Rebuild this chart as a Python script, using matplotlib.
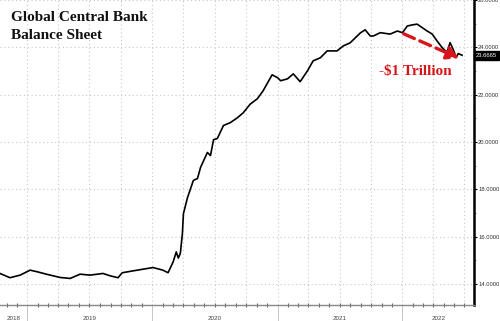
import matplotlib
matplotlib.use("Agg")
import matplotlib.pyplot as plt
import matplotlib.dates as mdates
import matplotlib.transforms as mtransforms
import pandas as pd

# global central bank balance sheet, $ trillion
dates = ["2018-10-13", "2018-11-11", "2018-12-11", "2019-01-09", "2019-01-30",
         "2019-02-28", "2019-04-07", "2019-05-06", "2019-06-04", "2019-07-03",
         "2019-08-10", "2019-08-31", "2019-09-23", "2019-10-05", "2019-11-06",
         "2019-12-05", "2020-01-03", "2020-02-01", "2020-02-16", "2020-03-02",
         "2020-03-11", "2020-03-17", "2020-03-23", "2020-03-29", "2020-04-01",
         "2020-04-13", "2020-04-22", "2020-04-30", "2020-05-12", "2020-05-21",
         "2020-06-10", "2020-06-19", "2020-06-28", "2020-07-09", "2020-07-27",
         "2020-08-16", "2020-09-06", "2020-09-23", "2020-10-13", "2020-11-03",
         "2020-11-20", "2020-12-16", "2021-01-01", "2021-01-10", "2021-01-30",
         "2021-02-16", "2021-03-08", "2021-03-29", "2021-04-15", "2021-05-06",
         "2021-05-26", "2021-06-24", "2021-07-12", "2021-08-01", "2021-08-31",
         "2021-09-14", "2021-09-29", "2021-10-08", "2021-10-28", "2021-11-26",
         "2021-12-17", "2022-01-01", "2022-01-15", "2022-01-30", "2022-02-13",
         "2022-02-28", "2022-03-14", "2022-03-29", "2022-04-12", "2022-04-27",
         "2022-05-11", "2022-05-20", "2022-05-29", "2022-06-07", "2022-06-13",
         "2022-06-24"]
values = [14.45, 14.27, 14.38, 14.59, 14.52,
          14.41, 14.28, 14.24, 14.42, 14.38,
          14.45, 14.35, 14.27, 14.48, 14.56,
          14.63, 14.70, 14.59, 14.48, 14.94,
          15.36, 15.10, 15.30, 16.15, 16.98,
          17.66, 18.04, 18.38, 18.46, 18.93,
          19.56, 19.43, 20.10, 20.15, 20.70,
          20.82, 21.03, 21.24, 21.60, 21.83,
          22.17, 22.84, 22.72, 22.59, 22.67,
          22.88, 22.55, 23.00, 23.43, 23.56,
          23.85, 23.85, 24.06, 24.19, 24.61,
          24.74, 24.48, 24.48, 24.62, 24.56,
          24.69, 24.62, 24.90, 24.95, 24.98,
          24.83, 24.69, 24.56, 24.27, 23.99,
          23.78, 24.20, 23.92, 23.57, 23.74,
          23.6665]
last_label = "23.6665"
years = [2018, 2019, 2020, 2021, 2022]
yticks = [14, 16, 18, 20, 22, 24, 26]

dates = pd.to_datetime(dates)
x_start = pd.Timestamp("2018-10-13")
x_end = pd.Timestamp("2022-07-29")
tickfont = "Liberation Sans"

fig = plt.figure(figsize=(5.0, 3.21), dpi=100)
ax = fig.add_axes([0.0, 0.05, 0.948, 0.95])

ax.plot(dates, values, color="black", lw=1.2, zorder=3)
ax.set_xlim(x_start, x_end)
ax.set_ylim(13.12, 26.0)

# y axis on the right
ax.yaxis.tick_right()
ax.set_yticks(yticks)
ax.set_yticklabels(["%.4f" % v for v in yticks], family=tickfont)
ax.set_yticks([15, 17, 19, 21, 23, 25], minor=True)
ax.tick_params(axis="y", which="major", direction="out", length=2.0, width=0.8,
               colors="black", labelsize=4.2, labelcolor="#333333", pad=1.0)
ax.tick_params(axis="y", which="minor", direction="out", length=1.5, width=0.6,
               colors="#777777")

for s in ["top", "left"]:
    ax.spines[s].set_visible(False)
ax.spines["right"].set_linewidth(1.8)
ax.spines["bottom"].set_color("#888888")
ax.spines["bottom"].set_linewidth(1.0)

# x axis: year separators below, monthly ticks, quarterly grid
ax.xaxis.set_major_locator(mdates.YearLocator())
ax.xaxis.set_minor_locator(mdates.MonthLocator())
ax.xaxis.set_major_formatter(plt.NullFormatter())
ax.tick_params(axis="x", which="major", direction="out", length=12, width=0.6,
               colors="#bbbbbb")
ax.tick_params(axis="x", which="minor", direction="inout", length=2.5, width=0.8,
               colors="#666666")

qdates = pd.date_range("2018-10-01", "2022-07-01", freq="QS")
for q in qdates:
    ax.axvline(q, color="#c8c8c8", lw=0.8, ls=(0, (1, 2.5)), zorder=1)
for v in yticks:
    ax.axhline(v, color="#c8c8c8", lw=0.8, ls=(0, (1, 2.5)), zorder=1)

# year labels centred in the visible part of each year
trans = mtransforms.blended_transform_factory(ax.transData, ax.transAxes)
for y in years:
    a = max(pd.Timestamp(f"{y}-01-01"), x_start)
    b = min(pd.Timestamp(f"{y + 1}-01-01"), x_end)
    mid = a + (b - a) / 2
    ax.text(mid, -0.035, str(y), transform=trans, ha="center", va="top",
            fontsize=4.5, color="#444444", family=tickfont)

# title
fig.text(0.022, 0.965, "Global Central Bank\nBalance Sheet", ha="left", va="top",
         fontsize=11, fontweight="bold", family="Liberation Serif",
         color="#111111", linespacing=1.45)

# annotation
red = "#d7161b"
ax.annotate("", xy=(pd.Timestamp("2022-06-22"), 23.5),
            xytext=(pd.Timestamp("2021-12-28"), 24.62),
            arrowprops=dict(arrowstyle="-|>,head_length=0.7,head_width=0.4",
                            color=red, lw=2.4, ls=(0, (3.5, 1.8))), zorder=4)
ax.text(pd.Timestamp("2022-02-07"), 23.0, "-$1 Trillion", ha="center",
        va="center", fontsize=11, fontweight="bold", family="Liberation Serif",
        color=red, zorder=4)

# last value box
ax.text(1.004, values[-1], last_label, transform=mtransforms.blended_transform_factory(
        ax.transAxes, ax.transData), ha="left", va="center", fontsize=4.2,
        family=tickfont, color="white",
        bbox=dict(boxstyle="square,pad=0.35", fc="black", ec="black"),
        clip_on=False, zorder=5)

fig.savefig("out.png", dpi=100)
